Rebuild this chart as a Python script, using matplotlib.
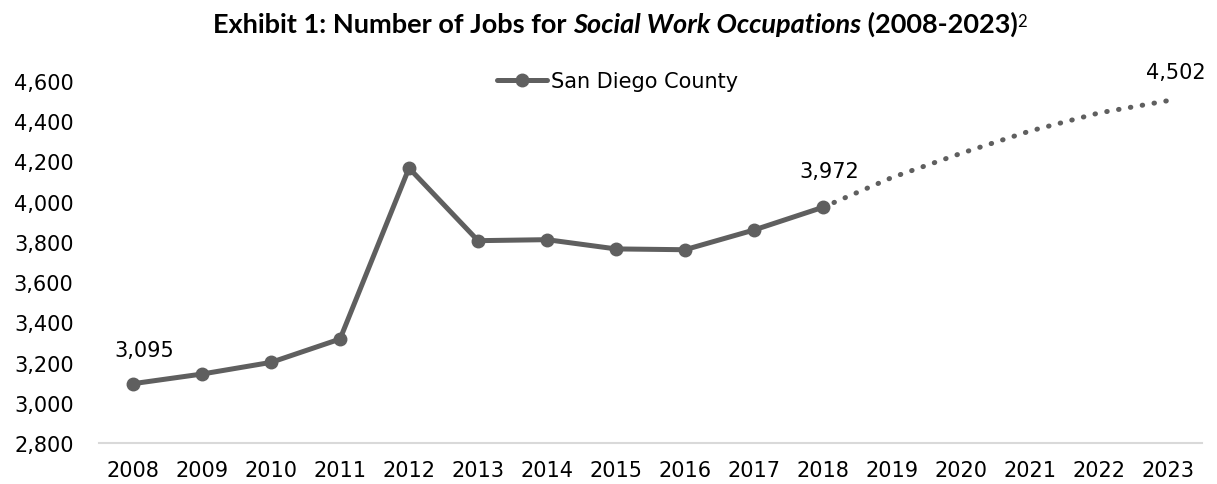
import matplotlib
matplotlib.use("Agg")
import matplotlib.pyplot as plt
from matplotlib.ticker import FuncFormatter

years = [str(y) for y in range(2008, 2024)]
actual_years = years[:11]
actual_values = [3095, 3143, 3201, 3317, 4167, 3806, 3811, 3765, 3761, 3859, 3972]
proj_years = years[10:]
proj_values = [3972, 4120, 4240, 4351, 4441, 4502]
yticks = [2800, 3000, 3200, 3400, 3600, 3800, 4000, 4200, 4400, 4600]

plt.rcParams['font.family'] = ['DejaVu Sans']
color = '#5f5f5f'

fig = plt.figure(figsize=(12.17, 4.85), dpi=100)
ax = fig.add_axes([0.081, 0.0845, 0.907, 0.7465])

xa = list(range(len(actual_years)))
xp = list(range(10, 10 + len(proj_years)))

ax.plot(xa, actual_values, color=color, lw=3.6, marker='o', markersize=9,
        solid_capstyle='round', label='San Diego County', zorder=3)
ax.plot(xp, proj_values, color=color, lw=3.6, linestyle=(0, (0.1, 2.3)),
        dash_capstyle='round', zorder=2)

ax.set_xlim(-0.5, len(years) - 0.5)
ax.set_ylim(2800, 4600)
ax.set_xticks(range(len(years)))
ax.set_xticklabels(years)
ax.set_yticks(yticks)
ax.yaxis.set_major_formatter(FuncFormatter(lambda v, p: f"{int(v):,}"))
ax.tick_params(axis='both', length=0, labelsize=15, colors='black')
ax.tick_params(axis='x', pad=12)
ax.tick_params(axis='y', pad=18)

for s in ['top', 'right', 'left']:
    ax.spines[s].set_visible(False)
ax.spines['bottom'].set_color('#d9d9d9')
ax.spines['bottom'].set_linewidth(1.5)

def lab(i, v, dx, dy):
    ax.annotate(f"{v:,}", (i, v), xytext=(dx, dy), textcoords='offset pixels',
                ha='center', va='center', fontsize=15, color='black')

lab(0, actual_values[0], 11, 34)
lab(10, actual_values[10], 6, 36)
lab(15, proj_values[-1], 8, 29)

leg = ax.legend(loc='center', bbox_to_anchor=(0.47, 1.0), frameon=False,
                fontsize=15, handlelength=2.4, handletextpad=0.2)

# Title built from pieces
parts = [("Exhibit 1: Number of Jobs for ", 'normal', 'bold', 19.5, 0, 0),
         ("Social Work Occupations", 'italic', 'bold', 19.5, 0, 0),
         (" (2008-2023)", 'normal', 'bold', 19.5, 0, 0),
         ("2", 'normal', 'normal', 12, 6, -1)]
fig.canvas.draw()
r = fig.canvas.get_renderer()
texts = []
for s, st, wt, fs, dy, gap in parts:
    t = fig.text(0, 0, s, fontsize=fs, fontstyle=st, fontweight=wt,
                 family=['Lato', 'DejaVu Sans'], ha='left', va='baseline')
    texts.append((t, dy, gap))
widths = [t.get_window_extent(r).width for t, _, _ in texts]
total = sum(widths) + sum(g for _, _, g in texts)
x = 620 - total / 2
base = 485 - 33
for (t, dy, gap), w in zip(texts, widths):
    x += gap
    t.set_position((x / 1217, (base + dy) / 485))
    x += w

fig.savefig('out.png', dpi=100)
